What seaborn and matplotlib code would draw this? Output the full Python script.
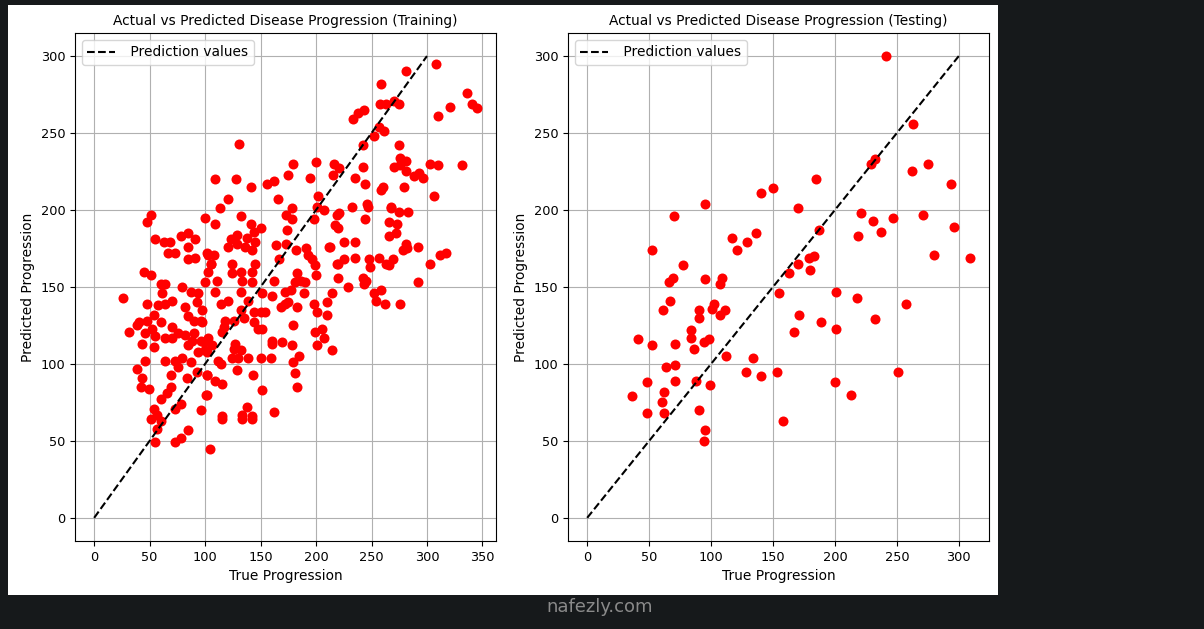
'''actual vs predicted disease progression, train and test'''
import matplotlib
matplotlib.use('Agg')
import matplotlib.pyplot as plt
from matplotlib.patches import Rectangle
import seaborn as sns

#training set: true progression / predicted progression
train_true = [51, 48, 100, 109, 109, 55, 63, 68, 67, 73, 78, 85, 91, 85, 85, 91, 103, 105, 45, 51,
              26, 60, 64, 79, 87, 94, 100, 61, 70, 64, 58, 48, 82, 93, 97, 54, 48, 40, 39, 31,
              60, 70, 85, 90, 96, 76, 82, 52, 55, 46, 64, 70, 90, 88, 96, 43, 54, 85, 94, 102,
              106, 46, 39, 64, 73, 79, 87, 76, 69, 93, 84, 102, 43, 42, 49, 69, 66, 60, 78, 73,
              102, 96, 54, 57, 51, 57, 85, 55, 73, 78, 104, 60, 115, 133, 142,
              131, 128, 141, 156, 162, 179, 175, 200, 195, 216, 215, 121, 113, 132, 166, 178, 173, 178, 202, 201,
              207, 198, 219, 217, 220, 141, 150, 144, 138, 145, 123, 129, 121, 136, 142, 129, 174, 164, 173, 167,
              182, 191, 193, 196, 199, 212, 219, 102, 108, 105, 103, 124, 124, 132, 142, 145, 183, 200,
              111, 133, 142, 162, 181, 186, 190, 109, 132, 151, 160, 172, 177, 189, 214, 114, 121, 139, 168, 172,
              175, 183, 198, 201, 210, 210, 132, 135, 144, 150, 154, 118, 117, 115, 126, 144, 148, 151, 179, 199,
              205, 207, 201, 214, 97, 99, 103, 100, 127, 126, 132, 124, 130, 139, 150, 159, 160, 160, 169, 178,
              185, 179, 181, 112, 114, 129, 102, 109, 115, 143, 151, 183, 101, 138, 133, 142, 115, 162,
              308, 281, 259, 258, 263, 270, 275, 243, 238, 233, 336, 321, 341, 345, 310, 257, 261, 252, 242, 275,
              276, 281, 270, 276, 281, 288, 293, 296, 303, 310, 332, 279, 259, 260, 306, 221, 242, 235, 244, 232,
              246, 268, 247,
              268, 275, 283, 221, 244, 266, 273, 272, 266, 225, 235, 213, 281, 278, 282, 292, 312, 317, 303, 220,
              225, 235, 248, 249, 257, 263, 266, 269, 220, 242, 245, 243, 229, 259, 252, 254, 262, 276, 292]
train_pred = [197, 192, 195, 220, 191, 181, 179, 179, 172, 172, 183, 185, 181, 176, 168, 169, 171, 165, 160, 158,
              143, 152, 152, 150, 147, 146, 153, 146, 141, 139, 138, 139, 137, 140, 135, 132, 128, 127, 125, 121,
              127, 124, 131, 128, 128, 120, 119, 123, 118, 120, 117, 117, 120, 115, 115, 113, 111, 112, 108, 108,
              112, 102, 97, 102, 102, 104, 101, 98, 93, 95, 91, 93, 91, 85, 84, 85, 81, 77, 74, 71,
              80, 70, 71, 67, 64, 58, 57, 49, 49, 52, 45, 63, 64, 64, 64,
              243, 220, 215, 217, 219, 230, 223, 231, 221, 230, 223, 207, 201, 196, 207, 201, 197, 194, 209, 202,
              200, 194, 197, 190, 188, 191, 188, 186, 182, 179, 181, 178, 176, 176, 174, 184, 187, 177, 178, 168,
              174, 175, 171, 168, 164, 176, 165, 172, 171, 165, 160, 165, 159, 160, 160, 165, 159, 158,
              154, 154, 153, 154, 153, 154, 153, 147, 147, 146, 144, 147, 148, 146, 146, 139, 141, 141, 137, 139,
              140, 137, 139, 134, 140, 132, 135, 130, 134, 134, 134, 128, 124, 121, 128, 127, 123, 123, 125, 121,
              123, 117, 112, 109, 127, 114, 117, 109, 113, 110, 109, 104, 104, 104, 104, 104, 115, 113, 114, 112,
              105, 101, 94, 102, 100, 96, 93, 89, 87, 93, 83, 85, 80, 72, 67, 66, 66, 69,
              295, 290, 282, 269, 269, 271, 269, 265, 263, 259, 276, 267, 269, 266, 261, 254, 251, 248, 242, 242,
              234, 232, 228, 229, 225, 222, 224, 221, 230, 229, 229, 215, 213, 215, 209, 227, 228, 221, 217, 202,
              204, 202, 202,
              201, 199, 199, 198, 194, 192, 191, 185, 183, 179, 179, 176, 178, 174, 175, 176, 171, 172, 165, 165,
              168, 169, 168, 163, 169, 165, 164, 168, 156, 156, 154, 152, 150, 148, 146, 141, 139, 139, 153]

#testing set
test_true = [241, 263, 232, 229, 275, 262, 294, 185, 150, 170, 221, 271, 231, 247, 296, 237, 219, 187, 183, 179,
             170, 180, 163, 280, 309, 155, 201, 218, 257, 171, 189, 167, 201, 232, 153, 200, 213, 251, 158,
             140, 95, 70, 117, 136, 129, 121, 52, 77, 69, 66, 95, 109, 107,
             67, 61, 90, 90, 102, 101, 111, 107, 84, 84, 41, 52, 71, 86, 94, 98, 112, 134, 128, 140,
             64, 71, 48, 71, 88, 99, 36, 62, 60, 48, 62, 90, 95, 94]
test_pred = [300, 256, 233, 230, 230, 225, 217, 220, 214, 201, 198, 197, 193, 195, 189, 186, 183, 187, 170, 169,
             165, 161, 159, 171, 169, 146, 147, 143, 139, 132, 127, 121, 123, 129, 95, 88, 80, 95, 63,
             211, 204, 196, 182, 185, 179, 174, 174, 164, 156, 153, 155, 156, 152,
             141, 135, 135, 130, 139, 136, 135, 132, 122, 117, 116, 112, 113, 110, 114, 116, 105, 104, 95, 92,
             98, 99, 88, 89, 89, 86, 79, 82, 75, 68, 68, 70, 57, 50]

line_ends = [0, 300]
titles = ['Actual vs Predicted Disease Progression (Training)',
          'Actual vs Predicted Disease Progression (Testing)']

fig = plt.figure(figsize=(12.04, 6.29), dpi=100, facecolor='#16191b')
# white page area of the screenshot
fig.patches.append(Rectangle((0.0066, 0.054), 0.8223, 0.938, transform=fig.transFigure,
                             facecolor='white', edgecolor='none', zorder=-10))
ax1 = fig.add_axes([0.0623, 0.140, 0.3497, 0.8076])
ax2 = fig.add_axes([0.4718, 0.140, 0.3497, 0.8076])

for ax, xs, ys, title in [(ax1, train_true, train_pred, titles[0]),
                          (ax2, test_true, test_pred, titles[1])]:
    sns.scatterplot(x=xs, y=ys, ax=ax, color='red', s=52, linewidth=0)
    sns.lineplot(x=line_ends, y=line_ends, ax=ax, color='black', linestyle='--',
                 label=' Prediction values')
    ax.set_title(title, fontsize=9.9)
    ax.set_xlabel('True Progression', fontsize=9.9)
    ax.set_ylabel('Predicted Progression', fontsize=9.9)
    ax.tick_params(labelsize=9.3)
    ax.grid(True)
    ax.set_axisbelow(True)
    ax.legend(loc='upper left', fontsize=9.9)

ax1.set_xticks([0, 50, 100, 150, 200, 250, 300, 350])
ax2.set_xticks([0, 50, 100, 150, 200, 250, 300])
for ax in (ax1, ax2):
    ax.set_yticks([0, 50, 100, 150, 200, 250, 300])

fig.text(0.498, 0.035, 'nafezly.com', color='#8a8a8a', fontsize=13, ha='center', va='center')

fig.savefig('out.png', dpi=100, facecolor=fig.get_facecolor())
